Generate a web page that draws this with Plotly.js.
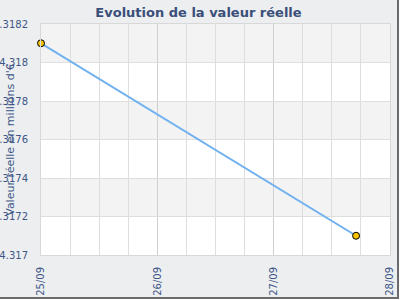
<!DOCTYPE html>
<html><head><meta charset="utf-8">
<script src="https://cdn.plot.ly/plotly-3.0.1.min.js"></script>
<style>
html,body{margin:0;padding:0;background:#fff;}
#c{width:397px;height:297px;border-right:2px solid #6b6b6b;border-bottom:2px solid #6b6b6b;}
</style></head><body><div id="c"></div>
<script>
const dates = ["2008-09-25 00:00", "2008-09-27 17:00"];
const values = [4.3181, 4.31710];
const yTickVals = [4.317, 4.3172, 4.3174, 4.3176, 4.3178, 4.318, 4.3182];
const yTickText = ["4.317", "4.3172", "4.3174", "4.3176", "4.3178", "4.318", "4.3182"];
const xTickVals = ["2008-09-25", "2008-09-26", "2008-09-27", "2008-09-28"];
const xTickText = ["25/09", "26/09", "27/09", "28/09"];

const labelColor = "#3d5687";
const shapes = [];
for (let i = yTickVals.length - 1; i > 0; i -= 2) {
  shapes.push({type:"rect", xref:"paper", yref:"y", x0:0, x1:1,
    y0:yTickVals[i-1], y1:yTickVals[i], fillcolor:"#f3f3f3", line:{width:0}, layer:"below"});
}

const trace = {
  x: dates, y: values, type: "scatter", mode: "lines+markers",
  line: {color: "#6eb0f0", width: 2},
  marker: {color: "#f5c400", size: 7, line: {color: "#000", width: 1}},
  cliponaxis: false
};

const layout = {
  width: 397, height: 297,
  margin: {l: 41, r: 7, t: 24, b: 42},
  paper_bgcolor: "#eceef0",
  plot_bgcolor: "#ffffff",
  showlegend: false,
  title: {text: "<b>Evolution de la valeur réelle</b>", x: 0.5, xanchor: "center", y: 0.975, yanchor: "top",
    font: {family: "DejaVu Sans, Verdana, sans-serif", size: 13, color: "#3b4e7a"}},
  xaxis: {
    type: "date", range: ["2008-09-25", "2008-09-28"],
    tickvals: xTickVals, ticktext: xTickText, tickangle: -90,
    tickfont: {family: "DejaVu Sans, Verdana, sans-serif", size: 10, color: labelColor},
    showgrid: true, gridcolor: "#cfcfcf", gridwidth: 1,
    minor: {dtick: 6*3600*1000, showgrid: true, gridcolor: "#dedede", gridwidth: 1},
    showline: true, linecolor: "#d8d8d8", mirror: true,
    zeroline: false, ticks: "outside", ticklen: 7, tickcolor: "rgba(0,0,0,0)",
    automargin: false, fixedrange: true
  },
  yaxis: {
    range: [4.317, 4.3182],
    tickvals: yTickVals, ticktext: yTickText,
    tickfont: {family: "DejaVu Sans, Verdana, sans-serif", size: 10, color: labelColor},
    showgrid: true, gridcolor: "#dedede", gridwidth: 1,
    showline: true, linecolor: "#d8d8d8", mirror: true,
    zeroline: false, ticks: "outside", ticklen: 10, tickcolor: "rgba(0,0,0,0)",
    automargin: false, fixedrange: true
  },
  shapes: shapes,
  annotations: [{
    text: "Valeur réelle en millions d'€", textangle: -90,
    xref: "paper", yref: "paper", x: -0.088, y: 0.5, xanchor: "center", yanchor: "middle",
    showarrow: false, font: {family: "DejaVu Sans, Verdana, sans-serif", size: 11, color: labelColor}
  }]
};

Plotly.newPlot("c", [trace], layout, {displayModeBar: false, staticPlot: true});
</script></body></html>
